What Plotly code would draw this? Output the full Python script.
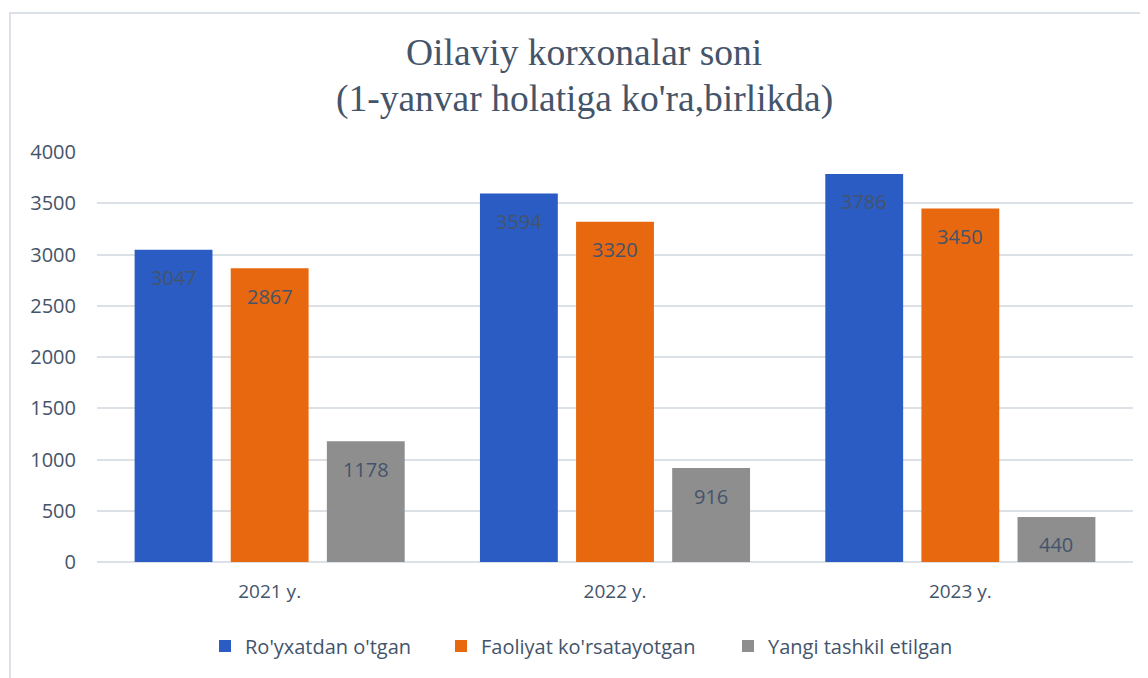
import plotly.graph_objects as go

categories = ["2021 y.", "2022 y.", "2023 y."]
series_names = ["Ro'yxatdan o'tgan", "Faoliyat ko'rsatayotgan", "Yangi tashkil etilgan"]
registered = [3047, 3594, 3786]
active = [2867, 3320, 3450]
new_created = [1178, 916, 440]
y_ticks = [0, 500, 1000, 1500, 2000, 2500, 3000, 3500, 4000]
title_lines = ["Oilaviy korxonalar soni", "(1-yanvar holatiga ko'ra,birlikda)"]

colors = ["#2A5CC4", "#E8680F", "#8E8E8E"]
text_color = "#44546A"
series = [registered, active, new_created]

# page has an 8px body margin, so the figure is drawn at (8, 8)
W, H = 1140, 670
L, R, T, B = 89, 15, 144, 116
pw, ph = W - L - R, H - T - B
slot_px = 96  # distance between neighbouring bars in a group
legend_left_px = [197, 433, 720]
legend_ids = ["legend", "legend2", "legend3"]

fig = go.Figure()
for name, vals, col, lid in zip(series_names, series, colors, legend_ids):
    fig.add_trace(go.Bar(
        x=categories, y=vals, name=name, legend=lid,
        marker=dict(color=col, line=dict(width=0)),
        hoverinfo="x+y+name",
    ))

annotations = []
for i, vals in enumerate(series):
    for cat, v in zip(categories, vals):
        annotations.append(dict(
            x=cat, y=v, xref="x", yref="y", text=str(v), showarrow=False,
            xshift=(i - 1) * slot_px, yshift=-28, yanchor="middle",
            font=dict(family="Open Sans", size=20, color=text_color),
        ))

title_x = (576 - L) / pw
for line, ypx in zip(title_lines, [44, 91]):
    annotations.append(dict(
        x=title_x, y=(H - B - ypx) / ph, xref="paper", yref="paper",
        text=line, showarrow=False, xanchor="center", yanchor="middle",
        font=dict(family="Liberation Serif", size=37.5, color="#44546A"),
    ))

legend_common = dict(
    orientation="h", xanchor="left", yanchor="middle",
    y=-(638 - (H - B)) / ph, bgcolor="rgba(0,0,0,0)", borderwidth=0,
    font=dict(family="Open Sans", size=20, color=text_color),
    itemwidth=30,
)
legends = {}
for lid, lx in zip(legend_ids, legend_left_px):
    legends[lid] = dict(legend_common, x=(lx - L) / pw)

fig.update_layout(
    width=W, height=H,
    margin=dict(l=L, r=R, t=T, b=B),
    paper_bgcolor="white", plot_bgcolor="white",
    barmode="group", bargap=0.165, bargroupgap=0.19,
    font=dict(family="Open Sans", color=text_color),
    xaxis=dict(
        showgrid=False, showline=False, ticks="",
        tickfont=dict(family="Open Sans", size=19, color=text_color),
        ticklabelstandoff=16,
    ),
    yaxis=dict(
        range=[0, 4000], tickvals=y_ticks,
        showgrid=True, gridcolor="#DCE1E7", gridwidth=1.5,
        zeroline=True, zerolinecolor="#DCE1E7", zerolinewidth=1.5,
        showline=False, ticks="",
        tickfont=dict(family="Open Sans", size=20, color=text_color),
        ticklabelstandoff=20,
    ),
    showlegend=True,
    annotations=annotations,
    shapes=[dict(
        type="rect", xref="paper", yref="paper",
        x0=(2 - L) / pw, x1=(W + 20 - L) / pw,
        y0=-(H + 20 - (H - B)) / ph, y1=((H - B) - 5) / ph,
        line=dict(color="#DCE1E7", width=2), fillcolor="rgba(0,0,0,0)",
        layer="below",
    )],
    **legends,
)

fig.write_html("out.html")
